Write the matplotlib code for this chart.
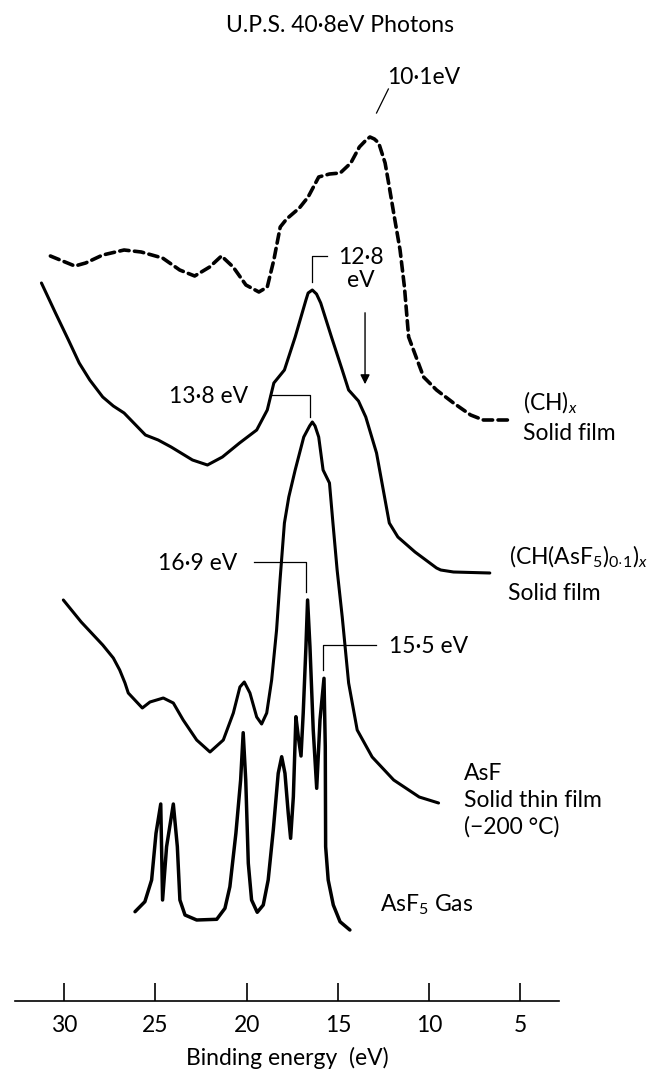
import matplotlib
matplotlib.use("Agg")
import matplotlib.pyplot as plt

plt.rcParams['font.family'] = ['Lato', 'DejaVu Sans']
plt.rcParams['mathtext.fontset'] = 'custom'
plt.rcParams['mathtext.rm'] = 'Lato'
plt.rcParams['mathtext.it'] = 'Lato:italic'

# (CH)x solid film, 40.8 eV photons (dashed trace)
ch_energy = [30.76, 29.42, 28.83, 27.89, 26.72, 25.78, 24.61, 23.67, 22.85, 22.03,
             21.38, 20.74, 20.04, 19.33, 18.87, 18.51, 18.16, 17.81, 17.11, 16.63,
             16.05, 15.46, 14.87, 14.29, 13.82, 13.45, 13.24, 13.00, 12.76, 12.41,
             12.18, 11.94, 11.59, 11.35, 11.12, 10.65, 10.30, 9.59, 8.66, 7.72,
             7.02, 5.61]
ch_intensity = [74.5, 73.5, 73.8, 74.6, 75.1, 74.9, 74.3, 73.1, 72.5, 73.4,
                74.5, 73.4, 71.6, 70.9, 71.4, 74.1, 77.4, 78.2, 79.3, 80.4,
                82.4, 82.7, 82.8, 83.8, 85.4, 86.1, 86.4, 86.2, 85.8, 83.8,
                81.4, 78.8, 75.1, 71.4, 66.4, 64.1, 62.4, 61.1, 59.8, 58.6,
                58.1, 58.1]

# (CH(AsF5)0.1)x solid film
doped_energy = [31.25, 30.48, 29.77, 29.18, 28.60, 27.89, 27.31, 26.72, 25.55, 24.85,
                24.14, 22.97, 22.15, 21.33, 20.39, 19.45, 18.87, 18.51, 17.93, 17.34,
                16.75, 16.63, 16.40, 16.17, 15.94, 15.35, 14.76, 14.41, 13.87, 13.47,
                12.88, 12.18, 11.71, 10.77, 9.59, 9.36, 8.66, 6.67]
doped_intensity = [71.8, 68.8, 66.1, 63.8, 62.1, 60.4, 59.5, 58.8, 56.6, 56.1,
                   55.4, 54.1, 53.6, 54.4, 55.8, 57.1, 59.1, 61.8, 63.1, 66.4,
                   70.1, 70.8, 71.1, 70.7, 69.8, 66.4, 63.1, 61.1, 60.0, 58.4,
                   54.8, 47.8, 46.4, 44.9, 43.3, 43.1, 42.9, 42.8]

# AsF5 solid thin film at -200 C
film_energy = [30.05, 29.07, 27.89, 27.31, 26.96, 26.67, 26.49, 25.72, 25.30, 24.57,
               24.02, 23.48, 22.74, 22.01, 21.28, 20.73, 20.37, 20.13, 19.82, 19.45,
               19.18, 18.90, 18.63, 18.36, 18.17, 17.93, 17.69, 17.34, 16.87, 16.55,
               16.40, 16.25, 16.05, 15.81, 15.46, 15.27, 15.04, 14.76, 14.41, 13.94,
               13.12, 11.94, 10.54, 9.48]
film_intensity = [40.1, 37.9, 35.6, 34.3, 33.1, 31.8, 30.8, 29.3, 29.9, 30.3,
                  29.8, 28.1, 26.1, 24.9, 26.1, 28.8, 31.4, 31.9, 30.8, 28.4,
                  27.7, 28.8, 32.1, 37.1, 42.1, 47.8, 50.4, 53.1, 56.4, 57.5,
                  57.9, 57.5, 56.4, 53.1, 51.8, 47.8, 43.1, 38.4, 31.8, 27.1,
                  24.4, 22.1, 20.4, 19.8]

# AsF5 gas phase
gas_energy = [26.12, 25.58, 25.21, 24.97, 24.71, 24.61, 24.39, 24.02, 23.80, 23.66,
              23.38, 22.74, 21.64, 21.19, 20.92, 20.59, 20.33, 20.19, 20.05, 19.91,
              19.73, 19.42, 19.09, 18.82, 18.54, 18.27, 18.08, 17.90, 17.72, 17.59,
              17.44, 17.30, 17.17, 17.02, 16.90, 16.75, 16.66, 16.53, 16.35, 16.16,
              15.98, 15.76, 15.69, 15.67, 15.53, 15.25, 14.88, 14.34]
gas_intensity = [8.93, 9.93, 12.1, 16.77, 19.7, 10.1, 15.43, 19.7, 15.43, 10.1,
                 8.6, 8.1, 8.17, 9.27, 11.43, 16.77, 22.1, 26.83, 22.1, 13.77,
                 10.1, 8.87, 9.6, 12.1, 17.1, 22.77, 24.43, 22.77, 18.77, 16.27,
                 20.43, 28.43, 26.43, 24.5, 28.77, 35.43, 40.1, 35.43, 27.1, 21.27,
                 28.1, 32.27, 25.43, 15.43, 12.1, 9.6, 7.93, 7.1]

tick_values = [30, 25, 20, 15, 10, 5]

fig = plt.figure(figsize=(6.71, 10.69), dpi=100)
ax = fig.add_axes([0.02235, 0.06361, 0.8107, 0.93639])
ax.set_xlim(32.70, 2.878)
ax.set_ylim(0, 100.1)

ax.plot(ch_energy, ch_intensity, color='black', lw=2.6, dashes=(2.6, 1.5),
        dash_capstyle='round', dash_joinstyle='round')
for e, i in [(doped_energy, doped_intensity), (film_energy, film_intensity)]:
    ax.plot(e, i, color='black', lw=2.2, solid_joinstyle='round',
            solid_capstyle='round')
ax.plot(gas_energy, gas_intensity, color='black', lw=2.5,
        solid_joinstyle='round', solid_capstyle='round')

fs = 16.5
lead = dict(color='black', lw=0.9)

# peak annotations
ax.text(12.31, 92.4, '10·1eV', fontsize=fs, ha='left', va='center')
ax.plot([12.23, 12.88], [91.2, 88.8], **lead)

ax.plot([16.40, 16.40, 15.58], [71.9, 74.5, 74.5], **lead)
ax.text(13.71, 74.4, '12·8', fontsize=fs, ha='center', va='center')
ax.text(13.76, 72.1, 'eV', fontsize=fs, ha='center', va='center')

ax.annotate('', xy=(13.51, 61.4), xytext=(13.51, 69.1),
            arrowprops=dict(arrowstyle='-|>', color='black', lw=1.0,
                            mutation_scale=14))

ax.text(19.94, 60.5, '13·8 eV', fontsize=fs, ha='right', va='center')
ax.plot([18.74, 16.52, 16.52], [60.6, 60.6, 58.4], **lead)

ax.text(20.50, 43.8, '16·9 eV', fontsize=fs, ha='right', va='center')
ax.plot([19.57, 16.72, 16.72], [43.9, 43.9, 40.9], **lead)

ax.text(12.20, 35.5, '15·5 eV', fontsize=fs, ha='left', va='center')
ax.plot([12.93, 15.82, 15.82], [35.6, 35.6, 33.1], **lead)

# spectrum labels
ax.text(4.85, 59.8, '(CH)$_{\\mathit{x}}$', fontsize=fs, ha='left', va='center')
ax.text(4.85, 56.8, 'Solid film', fontsize=fs, ha='left', va='center')
ax.text(5.62, 44.4, '(CH(AsF$_{5}$)$_{0{\\cdot}1}$)$_{\\mathit{x}}$', fontsize=fs,
        ha='left', va='center')
ax.text(5.68, 40.8, 'Solid film', fontsize=fs, ha='left', va='center')
ax.text(8.09, 22.8, 'AsF', fontsize=fs, ha='left', va='center')
ax.text(8.09, 20.1, 'Solid thin film', fontsize=fs, ha='left', va='center')
ax.text(8.09, 17.4, '(−200 °C)', fontsize=fs, ha='left', va='center')
ax.text(12.69, 9.6, 'AsF$_{5}$ Gas', fontsize=fs, ha='left', va='center')

fig.text(340 / 671, 1 - 25 / 1069, 'U.P.S. 40·8eV Photons', fontsize=fs,
         ha='center', va='center')

for side in ['left', 'top', 'right']:
    ax.spines[side].set_visible(False)
ax.spines['bottom'].set_linewidth(1.2)
ax.set_yticks([])
ax.set_xticks(tick_values)
ax.set_xticklabels([str(t) for t in tick_values], fontsize=fs)
ax.tick_params(axis='x', direction='in', length=13, width=1.2, pad=10)
ax.set_xlabel('Binding energy  (eV)', fontsize=fs, labelpad=8)
ax.patch.set_alpha(0)

fig.savefig('out.png', dpi=100)
